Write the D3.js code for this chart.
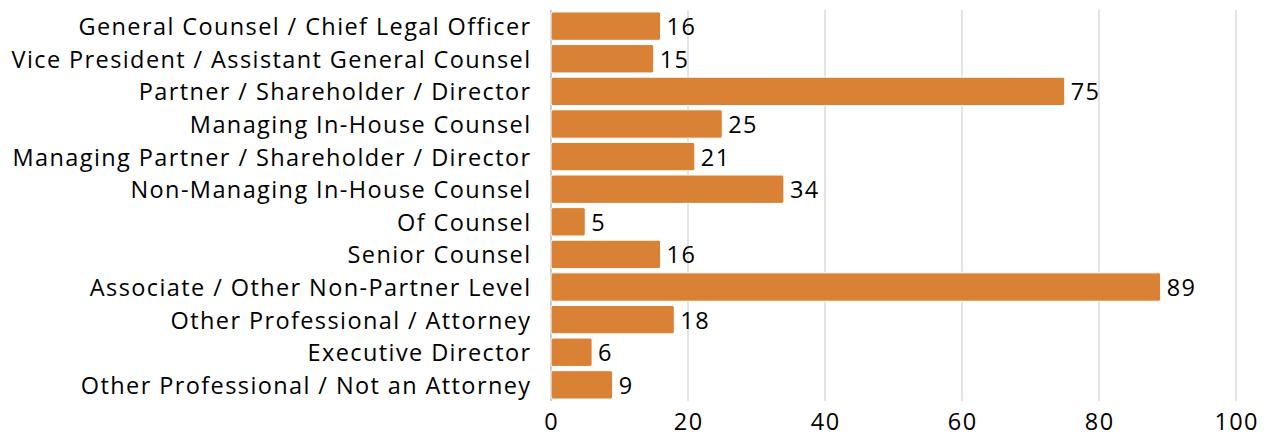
<!DOCTYPE html>
<html>
<head>
<meta charset="utf-8">
<script src="https://cdn.jsdelivr.net/npm/d3@7"></script>
<style>
  body { margin: 0; background: #fff; }
  text { font-family: "Open Sans", Lato, sans-serif; letter-spacing: 1.4px; }
</style>
</head>
<body>
<script>
// data
var categories = [
  "General Counsel / Chief Legal Officer",
  "Vice President / Assistant General Counsel",
  "Partner / Shareholder / Director",
  "Managing In-House Counsel",
  "Managing Partner / Shareholder / Director",
  "Non-Managing In-House Counsel",
  "Of Counsel",
  "Senior Counsel",
  "Associate / Other Non-Partner Level",
  "Other Professional / Attorney",
  "Executive Director",
  "Other Professional / Not an Attorney"
];
var counts = [16, 15, 75, 25, 21, 34, 5, 16, 89, 18, 6, 9];
var xTicks = [0, 20, 40, 60, 80, 100];

var w = 1269, h = 436;
var plotLeft = 551, plotRight = 1236, plotTop = 10, plotBottom = 401;
var fontSize = "23.5px";

var svg = d3.select("body").append("svg")
  .attr("width", w)
  .attr("height", h);

var x = d3.scaleLinear().domain([0, 100]).range([plotLeft, plotRight]);
var y = d3.scaleBand().domain(categories).range([plotTop, plotBottom]).paddingInner(0.13).paddingOuter(0.06);

// gridlines
svg.selectAll("line.grid")
  .data(xTicks.slice(1))
  .enter().append("line")
  .attr("class", "grid")
  .attr("x1", function(d) { return x(d); })
  .attr("x2", function(d) { return x(d); })
  .attr("y1", plotTop)
  .attr("y2", plotBottom)
  .attr("stroke", "#c8c8c8")
  .attr("stroke-width", 1);

svg.append("line")
  .attr("x1", x(0)).attr("x2", x(0))
  .attr("y1", plotTop).attr("y2", plotBottom)
  .attr("stroke", "#999")
  .attr("stroke-width", 1);

// x tick labels
svg.selectAll("text.tick")
  .data(xTicks)
  .enter().append("text")
  .attr("class", "tick")
  .attr("x", function(d) { return x(d) + 0.7; })
  .attr("y", 430)
  .attr("text-anchor", "middle")
  .attr("font-size", fontSize)
  .attr("fill", "#000")
  .text(function(d) { return d; });

// bars
svg.selectAll("rect.bar")
  .data(counts)
  .enter().append("rect")
  .attr("class", "bar")
  .attr("x", x(0))
  .attr("y", function(d, i) { return y(categories[i]); })
  .attr("width", function(d) { return x(d) - x(0); })
  .attr("height", y.bandwidth())
  .attr("rx", 2)
  .attr("fill", "#d98236")
  .attr("stroke", "#fff")
  .attr("stroke-width", 1);

// value labels
svg.selectAll("text.val")
  .data(counts)
  .enter().append("text")
  .attr("class", "val")
  .attr("x", function(d) { return x(d) + 6; })
  .attr("y", function(d, i) { return y(categories[i]) + y.bandwidth() / 2; })
  .attr("dy", "0.38em")
  .attr("font-size", fontSize)
  .attr("fill", "#000")
  .text(function(d) { return d; });

// category labels
svg.selectAll("text.cat")
  .data(categories)
  .enter().append("text")
  .attr("class", "cat")
  .attr("x", 531.5)
  .attr("y", function(d) { return y(d) + y.bandwidth() / 2; })
  .attr("dy", "0.38em")
  .attr("text-anchor", "end")
  .attr("font-size", fontSize)
  .attr("fill", "#000")
  .text(function(d) { return d; });
</script>
</body>
</html>
